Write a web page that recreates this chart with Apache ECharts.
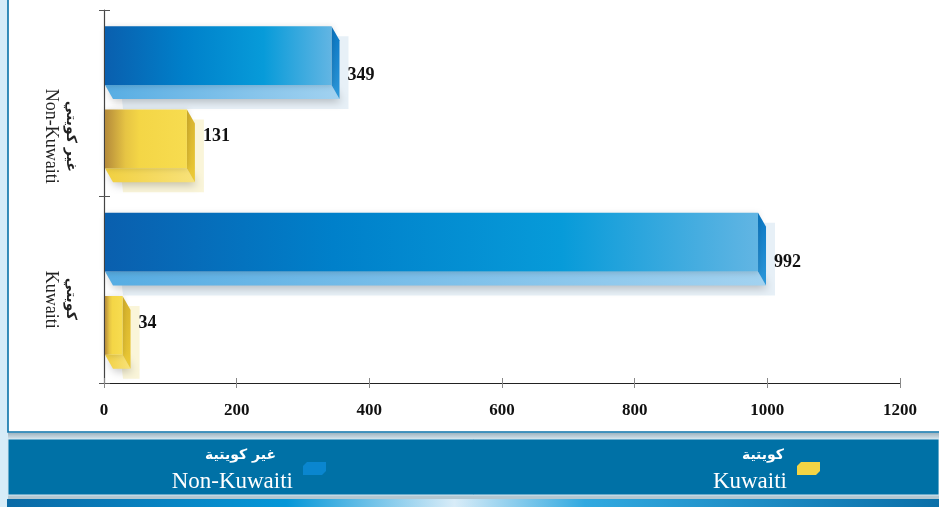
<!DOCTYPE html>
<html>
<head>
<meta charset="utf-8">
<script src="https://cdn.jsdelivr.net/npm/echarts@6/dist/echarts.min.js"></script>
<style>
html,body{margin:0;padding:0;background:#fff;}
#chart{width:939px;height:507px;}
</style>
</head>
<body>
<div id="chart"></div>
<script>
// ---- data ----
const categoriesEn = ['Non-Kuwaiti', 'Kuwaiti'];
const categoriesAr = ['غير كويتي', 'كويتي'];
const seriesEn = ['Non-Kuwaiti', 'Kuwaiti'];
const seriesAr = ['غير كويتية', 'كويتية'];
const nonKuwaitiValues = [349, 992];
const kuwaitiValues = [131, 34];
const xTicks = [0, 200, 400, 600, 800, 1000, 1200];

// ---- styles ----
const SERIF = '"Liberation Serif", "DejaVu Serif", serif';
const AR = '"DejaVu Sans", "Noto Sans", sans-serif';
const DX = 8, DY = 14;
const palette = [
  {
    base: '#0a86cf',
    front: [[0, '#0a5fae'], [0.35, '#0080ca'], [0.7, '#079bd9'], [1, '#62b5e3']],
    bottom: [[0, '#57ade3'], [1, '#a2d2f0']],
    side: ['#0a78c6', '#2c98da'],
    shadow: 'rgba(185,212,232,0.35)',
    labelDy: 13
  },
  {
    base: '#f3d444',
    front: [[0, '#b48a3a'], [0.25, '#e6c444'], [0.42, '#f4d646'], [1, '#f7dc50']],
    bottom: [[0, '#f1d040'], [1, '#f8e27a']],
    side: ['#d9b42c', '#ecca36'],
    shadow: 'rgba(246,236,185,0.55)',
    labelDy: -9
  }
];

function lg(stops, horizontal) {
  return new echarts.graphic.LinearGradient(0, 0, horizontal ? 1 : 0, horizontal ? 0 : 1,
    stops.map(s => ({offset: s[0], color: s[1]})));
}

function renderBar(params, api) {
  const pal = palette[params.seriesIndex];
  const val = api.value(0);
  const cat = api.value(1);
  const p0 = api.coord([0, cat]);
  const p1 = api.coord([val, cat]);
  const band = api.size([0, 1])[1];
  const barH = band * 0.39;
  const gap = band * 0.056;
  const c = p0[1] + 1;
  const top = params.seriesIndex === 0 ? c - gap / 2 - barH : c + gap / 2;
  const x0 = p0[0] + 1;
  const xs = p1[0] + 4;
  const xf = xs - DX;
  const fh = barH - DY;
  return {
    type: 'group',
    children: [
      {
        type: 'polygon',
        shape: {points: [[x0 + 10, top + 10], [xs + 9, top + 10], [xs + 9, top + barH + 10], [x0 + 10 + DX, top + barH + 10]]},
        style: {fill: pal.shadow}
      },
      {
        type: 'polygon',
        shape: {points: [[x0, top + fh], [xf, top + fh], [xs, top + barH], [x0 + DX, top + barH]]},
        style: {fill: lg(pal.bottom, true), shadowBlur: 8, shadowColor: 'rgba(0,0,0,0.22)', shadowOffsetY: 3, shadowOffsetX: 2}
      },
      {
        type: 'polygon',
        shape: {points: [[xf, top], [xs, top + DY], [xs, top + barH], [xf, top + fh]]},
        style: {fill: lg([[0, pal.side[0]], [1, pal.side[1]]], false)}
      },
      {
        type: 'rect',
        shape: {x: x0, y: top, width: Math.max(xf - x0, 1), height: fh},
        style: {fill: lg(pal.front, true), shadowBlur: 6, shadowColor: 'rgba(0,0,0,0.15)', shadowOffsetX: 1, shadowOffsetY: 1}
      },
      {
        type: 'text',
        style: {
          x: xs + 8, y: top + barH / 2 + pal.labelDy,
          text: String(val),
          font: 'bold 18px ' + SERIF,
          fill: '#111',
          verticalAlign: 'middle', align: 'left'
        }
      }
    ]
  };
}

const chart = echarts.init(document.getElementById('chart'), null, {renderer: 'canvas'});

const yRich = {
  ar0: {fontFamily: AR, fontSize: 14, fontWeight: 'bold', color: '#222', lineHeight: 20, padding: [0, 0, 0, 66]},
  en0: {fontFamily: SERIF, fontSize: 18, color: '#222', lineHeight: 20, padding: [0, 0, 0, 66]},
  ar1: {fontFamily: AR, fontSize: 14, fontWeight: 'bold', color: '#222', lineHeight: 20, padding: [0, 0, 0, 18]},
  en1: {fontFamily: SERIF, fontSize: 18, color: '#222', lineHeight: 20, padding: [0, 0, 0, 20]}
};

function legendCfg(i, right, arPad) {
  return {
    data: [seriesEn[i]],
    right: right,
    top: 448,
    padding: 0,
    align: 'right',
    selectedMode: false,
    icon: 'path://M0,4 L4,0 L23,0 L23,9 L19,13 L0,13 Z',
    itemWidth: 23,
    itemHeight: 13,
    formatter: function (name) {
      return '{ar|' + seriesAr[i] + '}\n{en|' + name + '}';
    },
    textStyle: {
      color: '#fff',
      rich: {
        ar: {fontFamily: AR, fontSize: 14, fontWeight: 'bold', color: '#fff', lineHeight: 27, align: 'right', padding: [0, arPad, 0, 0]},
        en: {fontFamily: SERIF, fontSize: 23, color: '#fff', lineHeight: 27, align: 'right', padding: [0, 5, 0, 0]}
      }
    }
  };
}

const option = {
  animation: false,
  backgroundColor: 'transparent',
  graphic: {
    elements: [
      {type: 'rect', z: -10, shape: {x: 0, y: 0, width: 939, height: 507}, style: {fill: '#d6ecf8'}},
      {type: 'rect', z: -9, shape: {x: 8, y: -5, width: 940, height: 437}, style: {fill: '#ffffff', stroke: '#0b72a8', lineWidth: 1.6}},
      {type: 'rect', z: -9, shape: {x: 8, y: 433, width: 931, height: 6},
        style: {fill: new echarts.graphic.LinearGradient(0, 0, 0, 1, [{offset: 0, color: '#9fb4c0'}, {offset: 1, color: '#d3e3ec'}])}},
      {type: 'rect', z: -9, shape: {x: 8, y: 439, width: 931, height: 56}, style: {fill: '#0071a6', stroke: '#d2e6f0', lineWidth: 1}},
      {type: 'rect', z: -9, shape: {x: 8, y: 495.5, width: 931, height: 3.5}, style: {fill: '#b3c7d1'}},
      {type: 'rect', z: -9, shape: {x: 7, y: 499, width: 932, height: 8},
        style: {fill: new echarts.graphic.LinearGradient(0, 0, 1, 0, [
          {offset: 0, color: '#0a6aa6'}, {offset: 0.3, color: '#0597d8'}, {offset: 0.48, color: '#d8ecf8'},
          {offset: 0.62, color: '#31a9e0'}, {offset: 1, color: '#0a6fa8'}])}}
    ]
  },
  legend: [legendCfg(0, 939 - 326, 22), legendCfg(1, 939 - 820, 8)],
  grid: {left: 104, right: 39, top: 10, bottom: 124, containLabel: false},
  xAxis: [
    {
      type: 'value', min: xTicks[0], max: xTicks[xTicks.length - 1], interval: 200,
      axisLine: {show: true, lineStyle: {color: '#222', width: 1.2}},
      axisTick: {show: true, length: 5, lineStyle: {color: '#888'}},
      splitLine: {show: false},
      axisLabel: {margin: 19, fontFamily: SERIF, fontWeight: 'bold', fontSize: 17, color: '#111',
        formatter: function (v) { return String(v); }}
    },
    {
      type: 'value', position: 'bottom', min: xTicks[0], max: xTicks[xTicks.length - 1], interval: 200,
      axisLine: {show: false},
      axisTick: {show: true, inside: true, length: 5, lineStyle: {color: '#888'}},
      splitLine: {show: false},
      axisLabel: {show: false}
    }
  ],
  yAxis: [
    {
      type: 'category', data: categoriesEn, inverse: true,
      axisLine: {show: true, lineStyle: {color: '#444', width: 1.2}},
      axisTick: {show: true, length: 5, lineStyle: {color: '#555'}},
      axisLabel: {
        rotate: -90, margin: 23,
        formatter: function (value, index) {
          return '{ar' + index + '|' + categoriesAr[index] + '}\n{en' + index + '|' + value + '}';
        },
        rich: yRich
      }
    },
    {
      type: 'category', data: categoriesEn, inverse: true, position: 'left',
      axisLine: {show: false},
      axisTick: {show: true, inside: true, length: 6, lineStyle: {color: '#555'}},
      axisLabel: {show: false}
    }
  ],
  series: [
    {
      name: seriesEn[0], type: 'custom', renderItem: renderBar,
      itemStyle: {color: palette[0].base},
      encode: {x: 0, y: 1},
      data: nonKuwaitiValues.map((v, i) => [v, i])
    },
    {
      name: seriesEn[1], type: 'custom', renderItem: renderBar,
      itemStyle: {color: palette[1].base},
      encode: {x: 0, y: 1},
      data: kuwaitiValues.map((v, i) => [v, i])
    }
  ]
};
chart.setOption(option);
</script>
</body>
</html>
